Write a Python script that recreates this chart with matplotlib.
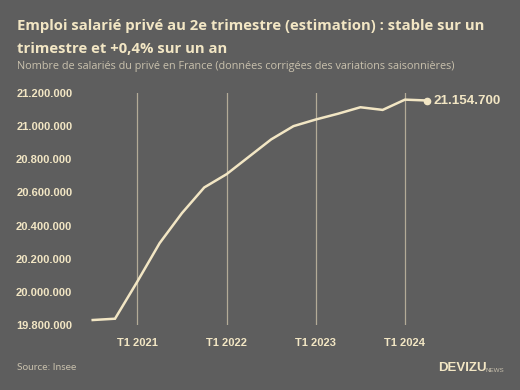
import matplotlib
matplotlib.use("Agg")
from matplotlib import pyplot as plt

# Quarterly private employment, T3 2020 -> T2 2024
quarters = ["T3 2020", "T4 2020", "T1 2021", "T2 2021", "T3 2021", "T4 2021",
            "T1 2022", "T2 2022", "T3 2022", "T4 2022", "T1 2023", "T2 2023",
            "T3 2023", "T4 2023", "T1 2024", "T2 2024"]
employees = [19830000, 19838000, 20062000, 20294000, 20475000, 20630000,
             20710000, 20815000, 20920000, 21000000, 21040000, 21075000,
             21114000, 21098000, 21160000, 21154700]
year_ticks = ["T1 2021", "T1 2022", "T1 2023", "T1 2024"]
y_ticks = [19800000, 20000000, 20200000, 20400000, 20600000, 20800000,
           21000000, 21200000]

BG = "#5e5e5e"
CREAM = "#f2e6c4"
GRID = "#b3ab97"
MUTED = "#c9c1ad"


def fmt(v):
    return f"{v:,.0f}".replace(",", ".")


fig = plt.figure(figsize=(5.2, 3.9), dpi=100, facecolor=BG)
ax = fig.add_axes([80 / 520, 65 / 390, 420 / 520, 232 / 390])
ax.set_facecolor(BG)

x = list(range(len(quarters)))
ax.plot(x, employees, color=CREAM, lw=1.8, solid_joinstyle="miter", zorder=3)
ax.plot(x[-1], employees[-1], "o", color=CREAM, ms=4.5, zorder=4)
ax.text(x[-1] + 0.3, employees[-1], fmt(employees[-1]), color=CREAM,
        fontsize=9.6, fontweight="bold", family="Liberation Sans",
        va="center", ha="left")

tick_pos = [quarters.index(q) for q in year_ticks]
for p in tick_pos:
    ax.axvline(p, color=GRID, lw=0.9, zorder=1)

ax.set_xlim(-0.57, 18.26)
ax.set_ylim(19800000, 21200000)
ax.set_xticks(tick_pos)
ax.set_xticklabels(year_ticks)
ax.set_yticks(y_ticks)
ax.set_yticklabels([fmt(v) for v in y_ticks])
ax.tick_params(length=0, colors=CREAM)
ax.tick_params(axis="y", pad=5.5)
ax.tick_params(axis="x", pad=9)
for lab in ax.get_xticklabels() + ax.get_yticklabels():
    lab.set_fontfamily("Liberation Sans")
    lab.set_fontweight("bold")
    lab.set_fontsize(8)
    lab.set_color(CREAM)
for s in ax.spines.values():
    s.set_visible(False)

fig.text(17 / 520, 1 - 30 / 390,
         "Emploi salarié privé au 2e trimestre (estimation) : stable sur un",
         color=CREAM, fontsize=10.75, fontweight="bold", family="Open Sans",
         va="baseline")
fig.text(17 / 520, 1 - 53 / 390, "trimestre et +0,4% sur un an",
         color=CREAM, fontsize=10.75, fontweight="bold", family="Open Sans",
         va="baseline")
fig.text(17 / 520, 1 - 67 / 390,
         "Nombre de salariés du privé en France (données corrigées des variations saisonnières)",
         color=MUTED, fontsize=7.8, family="Open Sans", va="center")
fig.text(17 / 520, 1 - 368 / 390, "Source: Insee", color=MUTED,
         fontsize=7.3, family="Lato", va="center")
fig.text(438 / 520, 1 - 368 / 390, "DEVIZU", color=CREAM, fontsize=9.5,
         fontweight="bold", family="Liberation Sans", va="center")
fig.text(486 / 520, 1 - 370 / 390, "NEWS", color=MUTED, fontsize=4.5,
         family="Liberation Sans", va="center")

fig.savefig("out.png", facecolor=BG)
